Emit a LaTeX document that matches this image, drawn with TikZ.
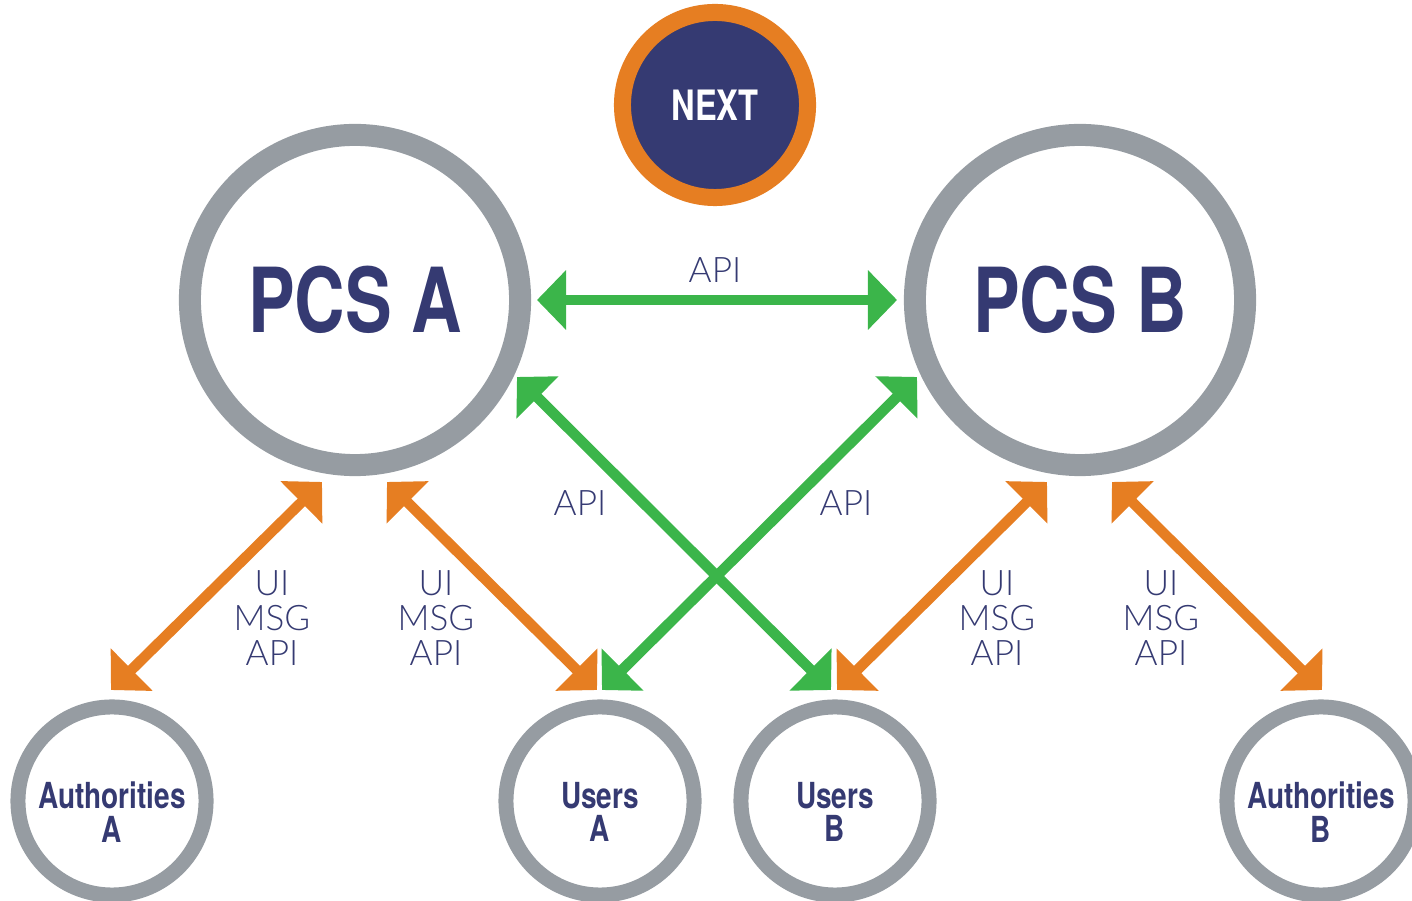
\documentclass[tikz,border=0pt]{standalone}
\usepackage{fontspec}
\setmainfont{Lato}
\IfFontExistsTF{Lato Light}{\newfontfamily\lightfont{Lato Light}}{\newfontfamily\lightfont{Lato}}
\newfontfamily\condfont[FakeStretch=0.78,Extension=.otf,UprightFont=*-bold]{texgyreheros}
\usetikzlibrary{arrows.meta}

\definecolor{ringgray}{RGB}{150,156,162}
\definecolor{navy}{RGB}{53,58,114}
\definecolor{nextorange}{RGB}{230,126,34}
\definecolor{apigreen}{RGB}{59,181,74}

\tikzset{
	ring/.style={circle, draw=ringgray, fill=white, inner sep=0pt},
	bigring/.style={ring, minimum size=3.3cm, line width=0.22cm, text=navy, font=\condfont\fontsize{25.5}{26}\selectfont},
	smallring/.style={ring, minimum size=1.88cm, line width=0.15cm},
	ringtext/.style={text=navy, align=center, inner sep=0pt, font=\condfont\fontsize{10.2}{9.5}\selectfont},
	nextring/.style={circle, draw=nextorange, fill=navy, inner sep=0pt, text=white, minimum size=1.85cm, line width=0.17cm, font=\condfont\fontsize{11.9}{12}\selectfont},
	link/.style={line width=0.105cm, {Triangle[length=0.29cm,width=0.58cm]}-{Triangle[length=0.29cm,width=0.58cm]}},
	greenlink/.style={link, draw=apigreen},
	orangelink/.style={link, draw=nextorange},
	proto/.style={text=navy, align=center, inner sep=0pt, font=\lightfont\fontsize{10}{10}\selectfont}
}

\begin{document}
\begin{tikzpicture}[x=0.01cm, y=-0.01cm]
	\useasboundingbox (0,0) rectangle (1412,901);
	
	\node[nextring] (next) at (715,105) {NEXT};
	
	\node[bigring] (pcsA) at (355,300) {PCS A};
	\node[bigring] (pcsB) at (1080,300) {PCS B};
	
	\node[smallring] (authA) at (112,801) {};
	\node[smallring] (usersA) at (600,801) {};
	\node[smallring] (usersB) at (835,801) {};
	\node[smallring] (authB) at (1321,801) {};
	\node[ringtext] (authA-text) at (112,812) {Authorities\\A};
	\node[ringtext] (usersA-text) at (600,812) {Users\\A};
	\node[ringtext] (usersB-text) at (835,812) {Users\\B};
	\node[ringtext] (authB-text) at (1321,812) {Authorities\\B};
	
	% arrow ends
	\coordinate (pcsA-e) at (537,300);
	\coordinate (pcsB-w) at (897,300);
	\coordinate (pcsA-se) at (517,377);
	\coordinate (pcsB-sw) at (917,377);
	\coordinate (pcsA-s1) at (322,482);
	\coordinate (pcsA-s2) at (387,482);
	\coordinate (pcsB-s1) at (1047,482);
	\coordinate (pcsB-s2) at (1112,482);
	\coordinate (authA-n) at (111,690);
	\coordinate (usersA-n1) at (597,690);
	\coordinate (usersA-n2) at (602,690);
	\coordinate (usersB-n1) at (831,690);
	\coordinate (usersB-n2) at (837,690);
	\coordinate (authB-n) at (1322,690);
	
	\draw[greenlink] (pcsA-e) -- (pcsB-w);
	\draw[greenlink] (pcsA-se) -- (usersB-n1);
	\draw[greenlink] (pcsB-sw) -- (usersA-n2);
	
	\draw[orangelink] (pcsA-s1) -- (authA-n);
	\draw[orangelink] (pcsA-s2) -- (usersA-n1);
	\draw[orangelink] (pcsB-s1) -- (usersB-n2);
	\draw[orangelink] (pcsB-s2) -- (authB-n);
	
	\node[proto] (apiAB) at (715,270) {API};
	\node[proto] (apiAUB) at (580,503) {API};
	\node[proto] (apiBUA) at (846,503) {API};
	\node[proto] (protoAA) at (272,618) {UI\\MSG\\API};
	\node[proto] (protoAU) at (436,618) {UI\\MSG\\API};
	\node[proto] (protoBU) at (997,618) {UI\\MSG\\API};
	\node[proto] (protoBA) at (1161,618) {UI\\MSG\\API};
\end{tikzpicture}
\end{document}
